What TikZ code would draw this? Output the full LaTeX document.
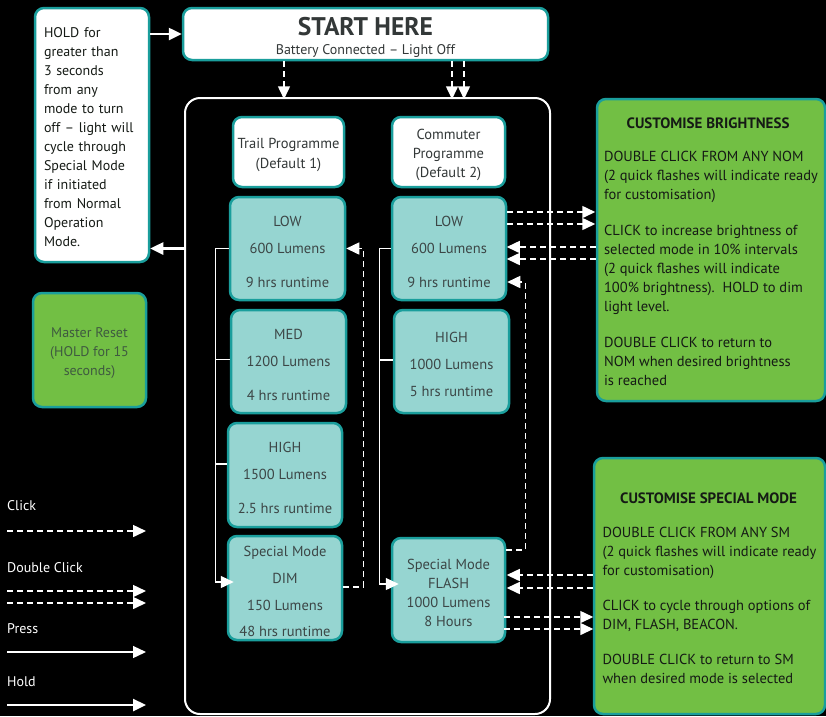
\documentclass[tikz,border=0pt]{standalone}
\usepackage{fontspec}
\setmainfont{PT Sans}
\usetikzlibrary{arrows.meta}

\definecolor{tealedge}{HTML}{1A9E9C}
\definecolor{tealfill}{HTML}{96D5D1}
\definecolor{leafgreen}{HTML}{72BF44}
\definecolor{boxtext}{HTML}{3C4646}
\definecolor{darkgrey}{HTML}{333838}
\definecolor{nearblack}{HTML}{151A15}
\definecolor{resettext}{HTML}{3F5A40}

\newcommand{\boxstrut}[1]{\rule{0pt}{#1}}

\begin{document}
\begin{tikzpicture}[x=1pt, y=-1pt,
  whitetip/.style={-{Triangle[length=13pt, width=12pt]}},
  box/.style={draw=tealedge, line width=2.5pt, rounded corners=9pt, inner sep=0pt, align=center, font=\fontsize{14}{19}\selectfont},
  whitebox/.style={box, fill=white, text=darkgrey},
  modebox/.style={box, fill=tealfill, text=boxtext, font=\fontsize{14.5}{27}\selectfont},
  greenbox/.style={box, fill=leafgreen, text=nearblack},
  click/.style={whitetip, draw=white, line width=1.5pt, dash pattern=on 6pt off 4pt},
  press/.style={whitetip, draw=white, line width=1.3pt},
  holdarrow/.style={whitetip, draw=white, line width=2.5pt},
  legend/.style={anchor=west, text=white, inner sep=0pt, font=\fontsize{14}{17}\selectfont}
]

\useasboundingbox (0,0) rectangle (826,716);
\fill[black] (0,0) rectangle (826,716);

% outer frame round both programmes
\node[draw=white, line width=2pt, rounded corners=15pt, minimum width=365pt, minimum height=616pt] (frame) at (367.5,406) {};

%% top row
\node[whitebox, minimum width=365pt, minimum height=52pt] (start) at (365.5,34)
  {\boxstrut{24pt}{\fontsize{25.5}{25}\selectfont\bfseries START HERE}\\[0pt]Battery Connected -- Light Off};
\node[whitebox, text=nearblack, align=left, text width=96pt, minimum width=114pt, minimum height=254pt] (hold) at (92,135)
  {\boxstrut{14pt}HOLD for\\greater than\\3 seconds\\from any\\mode to turn\\off -- light will\\cycle through\\Special Mode\\if initiated\\from Normal\\Operation\\Mode.};
\node[greenbox, text=resettext, minimum width=113pt, minimum height=114pt] (reset) at (89.5,350)
  {\boxstrut{17pt}Master Reset\\(HOLD for 15\\seconds)};

%% trail column
\node[whitebox, minimum width=111pt, minimum height=70pt, font=\fontsize{14.5}{20}\selectfont] (tprog) at (288.5,152) {\boxstrut{17pt}Trail Programme\\(Default 1)};
\node[modebox, minimum width=115pt, minimum height=103pt] (tlow) at (287.5,248.5) {\boxstrut{17pt}LOW\\600 Lumens\\[7pt]9 hrs runtime};
\node[modebox, minimum width=115pt, minimum height=103pt] (tmed) at (288.5,361.5) {\boxstrut{17pt}MED\\1200 Lumens\\[7pt]4 hrs runtime};
\node[modebox, minimum width=114pt, minimum height=104pt] (thigh) at (285,475) {\boxstrut{17pt}HIGH\\1500 Lumens\\[7pt]2.5 hrs runtime};
\node[modebox, minimum width=114pt, minimum height=104pt] (tdim) at (285,588) {\boxstrut{17pt}Special Mode\\DIM\\150 Lumens\\[-1pt]48 hrs runtime};

%% commuter column
\node[whitebox, minimum width=113pt, minimum height=70pt, font=\fontsize{14.5}{19}\selectfont] (cprog) at (448.5,152) {\boxstrut{17pt}Commuter\\Programme\\(Default 2)};
\node[modebox, minimum width=114pt, minimum height=103pt] (clow) at (449,248.5) {\boxstrut{17pt}LOW\\600 Lumens\\[7pt]9 hrs runtime};
\node[modebox, minimum width=115pt, minimum height=103pt] (chigh) at (451.5,361.5) {\boxstrut{17pt}HIGH\\1000 Lumens\\5 hrs runtime};
\node[modebox, minimum width=113pt, minimum height=104pt, font=\fontsize{14.5}{19}\selectfont] (cflash) at (448.5,590) {\boxstrut{17pt}Special Mode\\FLASH\\1000 Lumens\\8 Hours};

%% customise panels
\node[greenbox, align=left, minimum width=228pt, minimum height=302pt, font=\fontsize{14.5}{19}\selectfont] (bright) at (711,250)
  {\boxstrut{15pt}\makebox[208pt]{\fontsize{15}{19}\selectfont\bfseries CUSTOMISE BRIGHTNESS}\\[14pt]
   DOUBLE CLICK FROM ANY NOM\\(2 quick flashes will indicate ready\\for customisation)\\[17pt]
   CLICK to increase brightness of\\selected mode in 10\% intervals\\(2 quick flashes will indicate\\100\% brightness).\ \ HOLD to dim\\light level.\\[17pt]
   DOUBLE CLICK to return to\\NOM when desired brightness\\is reached};
\node[greenbox, align=left, minimum width=231pt, minimum height=256pt, font=\fontsize{14.5}{19}\selectfont] (special) at (709.5,586)
  {\boxstrut{15pt}\makebox[212pt]{\fontsize{15}{19}\selectfont\bfseries CUSTOMISE SPECIAL MODE}\\[15pt]
   DOUBLE CLICK FROM ANY SM\\(2 quick flashes will indicate ready\\for customisation)\\[16pt]
   CLICK to cycle through options of\\DIM, FLASH, BEACON.\\[16pt]
   DOUBLE CLICK to return to SM\\when desired mode is selected};

%% arrows from the start box
\draw[click] ([xshift=-81.5pt]start.south) -- ++(0,38);
\foreach \dx in {86.5, 98.5}
  \draw[click] ([xshift=\dx pt]start.south) -- ++(0,38);
\draw[holdarrow] (start.west -| hold.east) -- (start.west);
\draw[holdarrow] (frame.west |- tlow.west) -- (hold.east |- tlow.west);

% press round the trail modes
\draw[press] (tlow.west) -- ++(-13,0) |- ([xshift=7pt, yshift=6pt]tdim.west);
\draw[white, line width=1.3pt] ([yshift=2pt]tmed.west) -- ++(-14,0);
\draw[white, line width=1.3pt] ([yshift=11pt]thigh.west) -- ++(-11,0);
\draw[click] ([yshift=1pt]tdim.east) -- ++(20,0) |- (tlow.east);

% press round the commuter modes
\draw[press] (clow.west) -- ++(-11,0) |- ([xshift=8pt, yshift=6pt]cflash.west);
\draw[white, line width=1.3pt] ([yshift=1.5pt]chigh.west) -- ++(-13,0);
\draw[click] ([yshift=40pt]cflash.east) -- ++(19,0) |- ([yshift=-33.5pt]clow.east);

% double clicks to and from the panels
\foreach \dy in {36.5, 24.5}
  \draw[click] ([yshift=\dy pt]clow.east) -- ++(88,0);
\foreach \dy in {3, -9}
  \draw[click] ([yshift=\dy pt]bright.west) -- ++(-89,0);
\foreach \dy in {11, -2}
  \draw[click] ([yshift=\dy pt]special.west) -- ++(-86,0);
\foreach \dy in {-27, -39}
  \draw[click] ([xshift=-2pt, yshift=\dy pt]cflash.east) -- ++(89,0);

%% legend
\node[legend] (lclick) at (7,506) {Click};
\node[legend] (ldouble) at (7,568) {Double Click};
\node[legend] (lpress) at (7,629) {Press};
\node[legend] (lhold) at (7,682) {Hold};
\foreach \y/\sty [count=\i] in {531/click, 591/click, 603/click, 652/press, 705/holdarrow}
  {
  \coordinate (leg\i) at (7,\y);
  \draw[\sty] (leg\i) -- ++(139,0);
  }

\end{tikzpicture}
\end{document}
